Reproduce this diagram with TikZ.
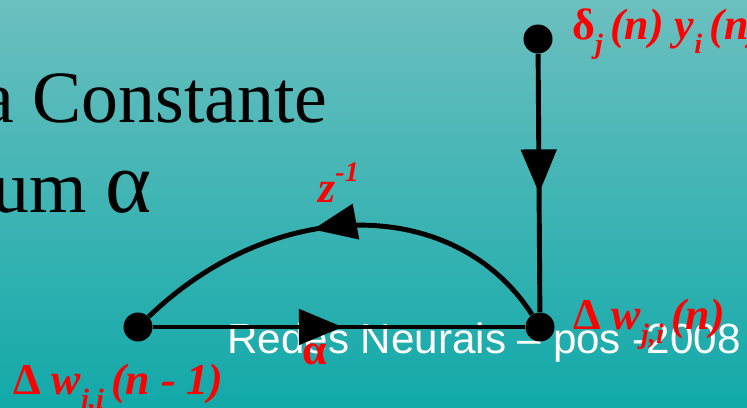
\documentclass[tikz,border=0pt]{standalone}
\usepackage{fontspec}
\setmainfont{Liberation Serif}
\setsansfont{Liberation Sans}
\usepackage{tikz}
\usetikzlibrary{arrows.meta, decorations.markings, positioning}

\definecolor{tealtop}{RGB}{108,191,191}
\definecolor{tealbot}{RGB}{18,169,169}
\newcommand{\lowsub}[1]{\raisebox{-0.3em}{\fontsize{16}{16}\selectfont #1}}
\newcommand{\highsup}[1]{\raisebox{0.5em}{\fontsize{16}{16}\selectfont #1}}

\begin{document}
\begin{tikzpicture}[x=0.02cm, y=-0.02cm,
    dot/.style={circle, fill=black, minimum size=0.58cm, inner sep=0},
    flow/.style={line width=2.8pt, postaction={decorate},
      decoration={markings, mark=at position #1 with {\arrow{Triangle[length=25pt, width=20pt]}}}},
    lbl/.style={text=red, font=\fontsize{25}{28}\selectfont\bfseries\itshape, inner sep=0, anchor=base west},
    big/.style={font=\fontsize{42}{48}\selectfont, inner sep=0, anchor=base west},
    footer/.style={text=white, font=\sffamily\fontsize{24}{28}\selectfont, inner sep=0, anchor=base west}]
  \useasboundingbox (0,0) rectangle (747,408);
  \clip (0,0) rectangle (747,408);
  \shade[top color=tealtop, bottom color=tealbot] (0,0) rectangle (747,408);

  % slide text behind the graph
  \node[big] (line1) at (-19,123) {a Constante};
  \node[big] (line2) at (-8,213) {um {\fontsize{50}{50}\selectfont α}};
  \node[footer] (foot) at (227,354) {Redes Neurais – pos -2008};

  % signal-flow graph
  \node[dot] (grad) at (538,39) {};
  \node[dot] (wold) at (138,327) {};
  \node[dot] (wnew) at (540,327) {};
  \draw[flow=0.54] (grad) -- (wnew);
  \draw[flow=0.51] (wold) -- (wnew);
  \draw[flow=0.57] (wnew) .. controls (455,195) and (275,195) .. (wold);

  % labels
  \node[lbl] (lgrad) at (572,40) {\textup{δ}\lowsub{j}\,(n) y\lowsub{i}\,(n)};
  \node[lbl] (ldelay) at (318,203) {z\highsup{-1}};
  \node[lbl] (lalpha) at (302,365) {\textup{α}};
  \node[lbl] (lwold) at (13,395) {\textup{Δ} w\lowsub{j,i}\,(n - 1)};
  \node[lbl] (lwnew) at (573,330) {\textup{Δ} w\lowsub{j,i}\,(n)};
\end{tikzpicture}
\end{document}
